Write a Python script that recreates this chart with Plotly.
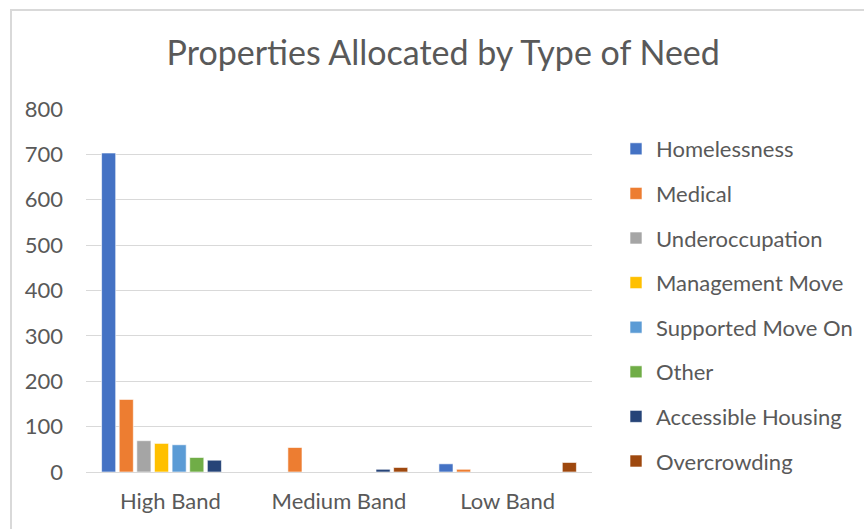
import plotly.graph_objects as go

categories = ["High Band", "Medium Band", "Low Band"]
series_names = ["Homelessness", "Medical", "Underoccupation", "Management Move",
                "Supported Move On", "Other", "Accessible Housing", "Overcrowding"]
homelessness = [703, 0, 18]
medical = [160, 54, 6]
underoccupation = [69, 0, 0]
management_move = [63, 0, 0]
supported_move_on = [60, 0, 0]
other = [32, 0, 0]
accessible_housing = [26, 6, 0]
overcrowding = [0, 10, 21]
series_values = [homelessness, medical, underoccupation, management_move,
                 supported_move_on, other, accessible_housing, overcrowding]
colors = ["#4472C4", "#ED7D31", "#A5A5A5", "#FFC000", "#5B9BD5", "#70AD47", "#264478", "#9E480E"]
y_ticks = [0, 100, 200, 300, 400, 500, 600, 700, 800]

FONT = "Lato"
GREY = "#595959"

fig = go.Figure()
for i, (name, vals) in enumerate(zip(series_names, series_values)):
    fig.add_trace(go.Bar(
        x=categories, y=vals, name=name,
        marker=dict(color=colors[i], line=dict(color="white", width=0.6)),
        legendgroup=name,
    ))

W, H = 864, 529
L, R, T, B = 86, 272, 109, 57
pw, ph = W - L - R, H - T - B

def px_x(p):
    return (p - L) / pw

def px_y(p):
    return (H - B - p) / ph

fig.update_layout(
    width=W, height=H,
    margin=dict(l=L, r=R, t=T, b=B),
    paper_bgcolor="white", plot_bgcolor="white",
    barmode="group", bargap=0.164, bargroupgap=0.2,
    font=dict(family=FONT, color=GREY, size=22),
    title=dict(text="Properties Allocated by Type of Need",
               x=0.513, xanchor="center", y=1 - 53 / H, yanchor="middle",
               xref="container", yref="container",
               font=dict(family=FONT, size=34, color=GREY)),
    legend=dict(xref="container", yref="container",
                x=616 / W, xanchor="left", y=1 - 128 / H, yanchor="top",
                font=dict(family=FONT, size=22, color=GREY),
                tracegroupgap=13, itemwidth=30, bgcolor="rgba(0,0,0,0)",
                maxheight=1.0),
    xaxis=dict(showgrid=False, showline=True, linecolor="#d9d9d9", linewidth=1,
               ticks="", tickfont=dict(size=22, color=GREY), ticklabelstandoff=10),
    yaxis=dict(range=[0, 800], tickvals=y_ticks, showgrid=True, gridcolor="#d9d9d9",
               gridwidth=1, zeroline=False, showline=False, ticks="",
               tickfont=dict(size=22, color=GREY), ticklabelstandoff=22),
    shapes=[dict(type="rect", xref="paper", yref="paper",
                 x0=px_x(11), x1=px_x(875), y0=px_y(540), y1=px_y(10),
                 line=dict(color="#d9d9d9", width=2), layer="below")],
)

fig.write_html("out.html")
